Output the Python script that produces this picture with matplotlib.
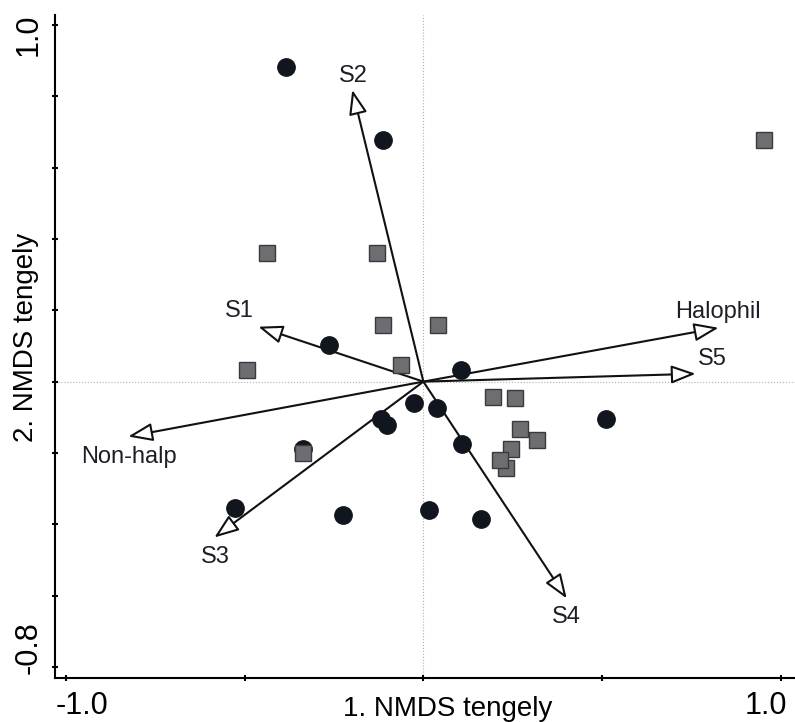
import matplotlib.pyplot as plt
import matplotlib.transforms as mtransforms

plt.rcParams['font.family'] = ['Liberation Sans', 'DejaVu Sans']

# sites, group 1 (black circles)
circ_x = [-0.384, -0.112, -0.263, 0.106, -0.025, 0.039, -0.120, -0.101,
          0.109, 0.510, -0.527, -0.224, 0.017, 0.162, -0.336]
circ_y = [0.882, 0.678, 0.104, 0.034, -0.059, -0.073, -0.104, -0.123,
          -0.176, -0.104, -0.353, -0.375, -0.359, -0.384, -0.190]

# sites, group 2 (grey squares)
sq_x = [0.952, -0.437, -0.129, -0.112, 0.042, -0.062, -0.493, -0.336,
        0.196, 0.255, 0.269, 0.319, 0.244, 0.232, 0.213]
sq_y = [0.678, 0.361, 0.361, 0.160, 0.160, 0.048, 0.034, -0.199,
        -0.042, -0.045, -0.132, -0.165, -0.188, -0.241, -0.221]

# fitted vectors
vec_names = ['S2', 'S1', 'Halophil', 'S5', 'Non-halp', 'S3', 'S4']
vec_x = [-0.199, -0.462, 0.826, 0.762, -0.826, -0.585, 0.401]
vec_y = [0.818, 0.154, 0.151, 0.022, -0.154, -0.437, -0.608]

xticks = [-1.0, -0.5, 0.0, 0.5, 1.0]
xticklabels = ['-1.0', '', '', '', '1.0']
yticks = [-0.8, -0.6, -0.4, -0.2, 0.0, 0.2, 0.4, 0.6, 0.8, 1.0]
yticklabels = ['-0.8', '', '', '', '', '', '', '', '', '1.0']

# label offsets from arrow tips (points)
label_off = [(0.7, 6.0), (-13.7, 6.8), (-0.7, 6.8), (12.2, 6.0),
             (0.7, -19.2), (0.7, -18.4), (0.0, -17.7)]

fig = plt.figure(figsize=(7.95, 7.22), dpi=100)
ax = fig.add_axes([55 / 795, 44 / 722, 740 / 795, 663 / 722])
ax.set_xlim(-1.031, 1.04)
ax.set_ylim(-0.831, 1.028)

ax.axhline(0, color='#b0b0b0', lw=0.8, ls=':', zorder=1)
ax.axvline(0, color='#b0b0b0', lw=0.8, ls=':', zorder=1)

for name, vx, vy, off in zip(vec_names, vec_x, vec_y, label_off):
    ax.annotate('', xy=(vx, vy), xytext=(0, 0),
                arrowprops=dict(arrowstyle='-|>,head_length=0.75,head_width=0.28',
                                mutation_scale=20, fc='white', ec='#111111',
                                lw=1.5, shrinkA=0, shrinkB=0), zorder=2)
    ax.annotate(name, xy=(vx, vy), xytext=off, textcoords='offset points',
                ha='center', va='baseline', fontsize=17, color='#1e1e28')

ax.plot(circ_x, circ_y, 'o', ms=12.5, color='#11161e', mec='#11161e', zorder=3)
ax.plot(sq_x, sq_y, 's', ms=12, color='#6e6e72', mec='#3a3a3e', mew=1, zorder=4)

for s in ['top', 'right']:
    ax.spines[s].set_visible(False)
for s in ['left', 'bottom']:
    ax.spines[s].set_linewidth(1.5)

ax.set_xticks(xticks, xticklabels)
ax.set_yticks(yticks, yticklabels, rotation=90)
ax.tick_params(direction='inout', length=5, width=1.5, labelsize=22)
ax.tick_params(axis='x', pad=7)
ax.tick_params(axis='y', pad=6)
for lab in ax.get_yticklabels():
    lab.set_va('center')

# push the end labels inward like the original
def shift(lab, dx, dy):
    lab.set_transform(lab.get_transform() +
                      mtransforms.ScaledTranslation(dx / 100, dy / 100, fig.dpi_scale_trans))

xl = ax.get_xticklabels()
shift(xl[0], 15.5, 0)
shift(xl[-1], -14.5, 0)
yl = ax.get_yticklabels()
shift(yl[0], 0, 19)
shift(yl[-1], 0, -10)

ax.text(0.53, -0.057, '1. NMDS tengely', transform=ax.transAxes,
        ha='center', va='baseline', fontsize=20)
ax.text(-0.0297, 0.514, '2. NMDS tengely', transform=ax.transAxes,
        ha='center', va='baseline', rotation=90, rotation_mode='anchor', fontsize=20)

fig.savefig('out.png', dpi=100)
